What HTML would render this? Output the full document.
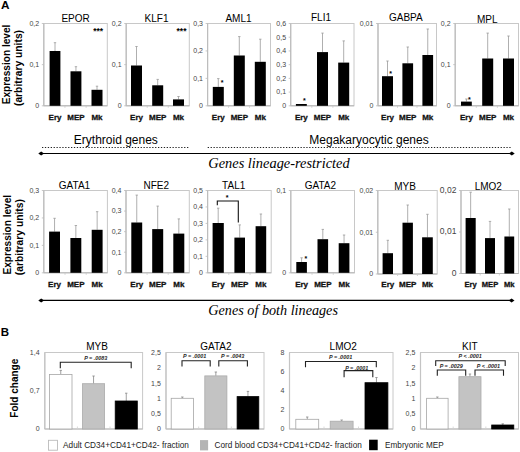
<!DOCTYPE html>
<html><head><meta charset="utf-8"><style>
html,body{margin:0;padding:0;background:#fff;width:520px;height:452px;overflow:hidden}
svg{display:block}

</style></head><body>
<svg width="520" height="452" viewBox="0 0 520 452">
<rect width="520" height="452" fill="#fff"/>
<text x="1" y="8.6" font-size="11.8" text-anchor="start" font-weight="bold" font-style="normal" fill="#000" style='font-family:"Liberation Sans", sans-serif' >A</text>
<text transform="translate(10.3,64.5) rotate(-90)" font-size="10.1" text-anchor="middle" font-weight="bold" style='font-family:"Liberation Sans", sans-serif'>Expression level</text>
<text transform="translate(21.5,68.0) rotate(-90)" font-size="10.3" text-anchor="middle" font-weight="bold" style='font-family:"Liberation Sans", sans-serif'>(arbitrary units)</text>
<rect x="43.8" y="23.5" width="63.5" height="82.3" fill="none" stroke="#c8c8c8" stroke-width="1"/>
<line x1="43.8" y1="23.5" x2="43.8" y2="105.8" stroke="#bdbdbd" stroke-width="1.2" />
<line x1="43.8" y1="105.8" x2="107.3" y2="105.8" stroke="#b5b5b5" stroke-width="1" />
<line x1="41.8" y1="23.5" x2="43.8" y2="23.5" stroke="#bbb" stroke-width="0.8" />
<text x="39.199999999999996" y="25.9" font-size="7" text-anchor="end" font-weight="normal" font-style="normal" fill="#454545" style='font-family:"Liberation Sans", sans-serif' >0,2</text>
<line x1="41.8" y1="64.65" x2="43.8" y2="64.65" stroke="#bbb" stroke-width="0.8" />
<text x="39.199999999999996" y="67.05000000000001" font-size="7" text-anchor="end" font-weight="normal" font-style="normal" fill="#454545" style='font-family:"Liberation Sans", sans-serif' >0,1</text>
<line x1="41.8" y1="105.8" x2="43.8" y2="105.8" stroke="#bbb" stroke-width="0.8" />
<text x="39.199999999999996" y="108.2" font-size="7" text-anchor="end" font-weight="normal" font-style="normal" fill="#454545" style='font-family:"Liberation Sans", sans-serif' >0</text>
<line x1="55.0" y1="42.7" x2="55.0" y2="51" stroke="#9a9a9a" stroke-width="0.8" />
<line x1="53.8" y1="42.7" x2="56.2" y2="42.7" stroke="#9a9a9a" stroke-width="0.8" />
<rect x="49.6" y="51" width="10.799999999999997" height="54.8" fill="#000" stroke="none" stroke-width="0"/>
<line x1="75.95" y1="66.7" x2="75.95" y2="71.3" stroke="#9a9a9a" stroke-width="0.8" />
<line x1="74.75" y1="66.7" x2="77.15" y2="66.7" stroke="#9a9a9a" stroke-width="0.8" />
<rect x="70.5" y="71.3" width="10.900000000000006" height="34.5" fill="#000" stroke="none" stroke-width="0"/>
<line x1="97.0" y1="86.2" x2="97.0" y2="89.8" stroke="#9a9a9a" stroke-width="0.8" />
<line x1="95.8" y1="86.2" x2="98.2" y2="86.2" stroke="#9a9a9a" stroke-width="0.8" />
<rect x="91.5" y="89.8" width="11.0" height="16.0" fill="#000" stroke="none" stroke-width="0"/>
<line x1="64.96666666666667" y1="105.8" x2="64.96666666666667" y2="107.8" stroke="#c8c8c8" stroke-width="0.8" />
<line x1="86.13333333333333" y1="105.8" x2="86.13333333333333" y2="107.8" stroke="#c8c8c8" stroke-width="0.8" />
<text x="55.0" y="119.9" font-size="8" text-anchor="middle" font-weight="bold" font-style="normal" fill="#111" style='font-family:"Liberation Sans", sans-serif' stroke="#111" stroke-width="0.3">Ery</text>
<text x="75.95" y="119.9" font-size="8" text-anchor="middle" font-weight="bold" font-style="normal" fill="#111" style='font-family:"Liberation Sans", sans-serif' stroke="#111" stroke-width="0.3">MEP</text>
<text x="97.0" y="119.9" font-size="8" text-anchor="middle" font-weight="bold" font-style="normal" fill="#111" style='font-family:"Liberation Sans", sans-serif' stroke="#111" stroke-width="0.3">Mk</text>
<text x="75.55" y="22.2" font-size="10" text-anchor="middle" font-weight="normal" font-style="normal" fill="#000" style='font-family:"Liberation Sans", sans-serif' >EPOR</text>
<text x="98.2" y="34.2" font-size="8.5" text-anchor="middle" font-weight="bold" font-style="normal" fill="#000" style='font-family:"Liberation Sans", sans-serif' >***</text>
<rect x="126.2" y="23.5" width="63.10000000000001" height="82.3" fill="none" stroke="#c8c8c8" stroke-width="1"/>
<line x1="126.2" y1="23.5" x2="126.2" y2="105.8" stroke="#bdbdbd" stroke-width="1.2" />
<line x1="126.2" y1="105.8" x2="189.3" y2="105.8" stroke="#b5b5b5" stroke-width="1" />
<line x1="124.2" y1="23.5" x2="126.2" y2="23.5" stroke="#bbb" stroke-width="0.8" />
<text x="121.60000000000001" y="25.9" font-size="7" text-anchor="end" font-weight="normal" font-style="normal" fill="#454545" style='font-family:"Liberation Sans", sans-serif' >0,2</text>
<line x1="124.2" y1="64.65" x2="126.2" y2="64.65" stroke="#bbb" stroke-width="0.8" />
<text x="121.60000000000001" y="67.05000000000001" font-size="7" text-anchor="end" font-weight="normal" font-style="normal" fill="#454545" style='font-family:"Liberation Sans", sans-serif' >0,1</text>
<line x1="124.2" y1="105.8" x2="126.2" y2="105.8" stroke="#bbb" stroke-width="0.8" />
<text x="121.60000000000001" y="108.2" font-size="7" text-anchor="end" font-weight="normal" font-style="normal" fill="#454545" style='font-family:"Liberation Sans", sans-serif' >0</text>
<line x1="136.5" y1="46.5" x2="136.5" y2="65.5" stroke="#9a9a9a" stroke-width="0.8" />
<line x1="135.3" y1="46.5" x2="137.7" y2="46.5" stroke="#9a9a9a" stroke-width="0.8" />
<rect x="131" y="65.5" width="11" height="40.3" fill="#000" stroke="none" stroke-width="0"/>
<line x1="157.7" y1="79.4" x2="157.7" y2="85.3" stroke="#9a9a9a" stroke-width="0.8" />
<line x1="156.5" y1="79.4" x2="158.89999999999998" y2="79.4" stroke="#9a9a9a" stroke-width="0.8" />
<rect x="152.2" y="85.3" width="11.0" height="20.5" fill="#000" stroke="none" stroke-width="0"/>
<line x1="178.5" y1="96.5" x2="178.5" y2="99.4" stroke="#9a9a9a" stroke-width="0.8" />
<line x1="177.3" y1="96.5" x2="179.7" y2="96.5" stroke="#9a9a9a" stroke-width="0.8" />
<rect x="173" y="99.4" width="11" height="6.3999999999999915" fill="#000" stroke="none" stroke-width="0"/>
<line x1="147.23333333333335" y1="105.8" x2="147.23333333333335" y2="107.8" stroke="#c8c8c8" stroke-width="0.8" />
<line x1="168.26666666666668" y1="105.8" x2="168.26666666666668" y2="107.8" stroke="#c8c8c8" stroke-width="0.8" />
<text x="136.5" y="119.9" font-size="8" text-anchor="middle" font-weight="bold" font-style="normal" fill="#111" style='font-family:"Liberation Sans", sans-serif' stroke="#111" stroke-width="0.3">Ery</text>
<text x="157.7" y="119.9" font-size="8" text-anchor="middle" font-weight="bold" font-style="normal" fill="#111" style='font-family:"Liberation Sans", sans-serif' stroke="#111" stroke-width="0.3">MEP</text>
<text x="178.5" y="119.9" font-size="8" text-anchor="middle" font-weight="bold" font-style="normal" fill="#111" style='font-family:"Liberation Sans", sans-serif' stroke="#111" stroke-width="0.3">Mk</text>
<text x="156.5" y="22.2" font-size="10" text-anchor="middle" font-weight="normal" font-style="normal" fill="#000" style='font-family:"Liberation Sans", sans-serif' >KLF1</text>
<text x="181.5" y="34.2" font-size="8.5" text-anchor="middle" font-weight="bold" font-style="normal" fill="#000" style='font-family:"Liberation Sans", sans-serif' >***</text>
<rect x="207.6" y="23.5" width="62.900000000000006" height="82.3" fill="none" stroke="#c8c8c8" stroke-width="1"/>
<line x1="207.6" y1="23.5" x2="207.6" y2="105.8" stroke="#bdbdbd" stroke-width="1.2" />
<line x1="207.6" y1="105.8" x2="270.5" y2="105.8" stroke="#b5b5b5" stroke-width="1" />
<line x1="205.6" y1="23.5" x2="207.6" y2="23.5" stroke="#bbb" stroke-width="0.8" />
<text x="203.0" y="25.9" font-size="7" text-anchor="end" font-weight="normal" font-style="normal" fill="#454545" style='font-family:"Liberation Sans", sans-serif' >0,3</text>
<line x1="205.6" y1="50.93333333333334" x2="207.6" y2="50.93333333333334" stroke="#bbb" stroke-width="0.8" />
<text x="203.0" y="53.333333333333336" font-size="7" text-anchor="end" font-weight="normal" font-style="normal" fill="#454545" style='font-family:"Liberation Sans", sans-serif' >0,2</text>
<line x1="205.6" y1="78.36666666666667" x2="207.6" y2="78.36666666666667" stroke="#bbb" stroke-width="0.8" />
<text x="203.0" y="80.76666666666668" font-size="7" text-anchor="end" font-weight="normal" font-style="normal" fill="#454545" style='font-family:"Liberation Sans", sans-serif' >0,1</text>
<line x1="205.6" y1="105.8" x2="207.6" y2="105.8" stroke="#bbb" stroke-width="0.8" />
<text x="203.0" y="108.2" font-size="7" text-anchor="end" font-weight="normal" font-style="normal" fill="#454545" style='font-family:"Liberation Sans", sans-serif' >0</text>
<line x1="218.3" y1="78.6" x2="218.3" y2="86.9" stroke="#9a9a9a" stroke-width="0.8" />
<line x1="217.10000000000002" y1="78.6" x2="219.5" y2="78.6" stroke="#9a9a9a" stroke-width="0.8" />
<rect x="212.8" y="86.9" width="11.0" height="18.89999999999999" fill="#000" stroke="none" stroke-width="0"/>
<line x1="239.3" y1="36.6" x2="239.3" y2="55.5" stroke="#9a9a9a" stroke-width="0.8" />
<line x1="238.10000000000002" y1="36.6" x2="240.5" y2="36.6" stroke="#9a9a9a" stroke-width="0.8" />
<rect x="233.8" y="55.5" width="11.0" height="50.3" fill="#000" stroke="none" stroke-width="0"/>
<line x1="260.3" y1="39.2" x2="260.3" y2="61.8" stroke="#9a9a9a" stroke-width="0.8" />
<line x1="259.1" y1="39.2" x2="261.5" y2="39.2" stroke="#9a9a9a" stroke-width="0.8" />
<rect x="254.8" y="61.8" width="11.0" height="44.0" fill="#000" stroke="none" stroke-width="0"/>
<line x1="228.56666666666666" y1="105.8" x2="228.56666666666666" y2="107.8" stroke="#c8c8c8" stroke-width="0.8" />
<line x1="249.53333333333333" y1="105.8" x2="249.53333333333333" y2="107.8" stroke="#c8c8c8" stroke-width="0.8" />
<text x="218.3" y="119.9" font-size="8" text-anchor="middle" font-weight="bold" font-style="normal" fill="#111" style='font-family:"Liberation Sans", sans-serif' stroke="#111" stroke-width="0.3">Ery</text>
<text x="239.3" y="119.9" font-size="8" text-anchor="middle" font-weight="bold" font-style="normal" fill="#111" style='font-family:"Liberation Sans", sans-serif' stroke="#111" stroke-width="0.3">MEP</text>
<text x="260.3" y="119.9" font-size="8" text-anchor="middle" font-weight="bold" font-style="normal" fill="#111" style='font-family:"Liberation Sans", sans-serif' stroke="#111" stroke-width="0.3">Mk</text>
<text x="238.5" y="22.2" font-size="10" text-anchor="middle" font-weight="normal" font-style="normal" fill="#000" style='font-family:"Liberation Sans", sans-serif' >AML1</text>
<text x="222" y="84.8" font-size="7" text-anchor="middle" font-weight="bold" font-style="normal" fill="#000" style='font-family:"Liberation Sans", sans-serif' >*</text>
<rect x="290.7" y="23.5" width="63.30000000000001" height="82.3" fill="none" stroke="#c8c8c8" stroke-width="1"/>
<line x1="290.7" y1="23.5" x2="290.7" y2="105.8" stroke="#bdbdbd" stroke-width="1.2" />
<line x1="290.7" y1="105.8" x2="354" y2="105.8" stroke="#b5b5b5" stroke-width="1" />
<line x1="288.7" y1="23.5" x2="290.7" y2="23.5" stroke="#bbb" stroke-width="0.8" />
<text x="286.09999999999997" y="25.9" font-size="7" text-anchor="end" font-weight="normal" font-style="normal" fill="#454545" style='font-family:"Liberation Sans", sans-serif' >0,6</text>
<line x1="288.7" y1="37.21666666666667" x2="290.7" y2="37.21666666666667" stroke="#bbb" stroke-width="0.8" />
<text x="286.09999999999997" y="39.61666666666667" font-size="7" text-anchor="end" font-weight="normal" font-style="normal" fill="#454545" style='font-family:"Liberation Sans", sans-serif' >0,5</text>
<line x1="288.7" y1="50.93333333333334" x2="290.7" y2="50.93333333333334" stroke="#bbb" stroke-width="0.8" />
<text x="286.09999999999997" y="53.333333333333336" font-size="7" text-anchor="end" font-weight="normal" font-style="normal" fill="#454545" style='font-family:"Liberation Sans", sans-serif' >0,4</text>
<line x1="288.7" y1="64.65" x2="290.7" y2="64.65" stroke="#bbb" stroke-width="0.8" />
<text x="286.09999999999997" y="67.05000000000001" font-size="7" text-anchor="end" font-weight="normal" font-style="normal" fill="#454545" style='font-family:"Liberation Sans", sans-serif' >0,3</text>
<line x1="288.7" y1="78.36666666666667" x2="290.7" y2="78.36666666666667" stroke="#bbb" stroke-width="0.8" />
<text x="286.09999999999997" y="80.76666666666668" font-size="7" text-anchor="end" font-weight="normal" font-style="normal" fill="#454545" style='font-family:"Liberation Sans", sans-serif' >0,2</text>
<line x1="288.7" y1="92.08333333333333" x2="290.7" y2="92.08333333333333" stroke="#bbb" stroke-width="0.8" />
<text x="286.09999999999997" y="94.48333333333333" font-size="7" text-anchor="end" font-weight="normal" font-style="normal" fill="#454545" style='font-family:"Liberation Sans", sans-serif' >0,1</text>
<line x1="288.7" y1="105.8" x2="290.7" y2="105.8" stroke="#bbb" stroke-width="0.8" />
<text x="286.09999999999997" y="108.2" font-size="7" text-anchor="end" font-weight="normal" font-style="normal" fill="#454545" style='font-family:"Liberation Sans", sans-serif' >0</text>
<rect x="295.9" y="104" width="10.900000000000034" height="1.7999999999999972" fill="#000" stroke="none" stroke-width="0"/>
<line x1="322.5" y1="33.1" x2="322.5" y2="52.1" stroke="#9a9a9a" stroke-width="0.8" />
<line x1="321.3" y1="33.1" x2="323.7" y2="33.1" stroke="#9a9a9a" stroke-width="0.8" />
<rect x="317" y="52.1" width="11" height="53.699999999999996" fill="#000" stroke="none" stroke-width="0"/>
<line x1="343.7" y1="40.9" x2="343.7" y2="62.6" stroke="#9a9a9a" stroke-width="0.8" />
<line x1="342.5" y1="40.9" x2="344.9" y2="40.9" stroke="#9a9a9a" stroke-width="0.8" />
<rect x="338.2" y="62.6" width="11.0" height="43.199999999999996" fill="#000" stroke="none" stroke-width="0"/>
<line x1="311.8" y1="105.8" x2="311.8" y2="107.8" stroke="#c8c8c8" stroke-width="0.8" />
<line x1="332.9" y1="105.8" x2="332.9" y2="107.8" stroke="#c8c8c8" stroke-width="0.8" />
<text x="301.35" y="119.9" font-size="8" text-anchor="middle" font-weight="bold" font-style="normal" fill="#111" style='font-family:"Liberation Sans", sans-serif' stroke="#111" stroke-width="0.3">Ery</text>
<text x="322.5" y="119.9" font-size="8" text-anchor="middle" font-weight="bold" font-style="normal" fill="#111" style='font-family:"Liberation Sans", sans-serif' stroke="#111" stroke-width="0.3">MEP</text>
<text x="343.7" y="119.9" font-size="8" text-anchor="middle" font-weight="bold" font-style="normal" fill="#111" style='font-family:"Liberation Sans", sans-serif' stroke="#111" stroke-width="0.3">Mk</text>
<text x="321" y="21.2" font-size="10" text-anchor="middle" font-weight="normal" font-style="normal" fill="#000" style='font-family:"Liberation Sans", sans-serif' >FLI1</text>
<text x="304.4" y="102.5" font-size="7" text-anchor="middle" font-weight="bold" font-style="normal" fill="#000" style='font-family:"Liberation Sans", sans-serif' >*</text>
<rect x="378" y="23.5" width="58.5" height="82.3" fill="none" stroke="#c8c8c8" stroke-width="1"/>
<line x1="378" y1="23.5" x2="378" y2="105.8" stroke="#bdbdbd" stroke-width="1.2" />
<line x1="378" y1="105.8" x2="436.5" y2="105.8" stroke="#b5b5b5" stroke-width="1" />
<line x1="376" y1="23.5" x2="378" y2="23.5" stroke="#bbb" stroke-width="0.8" />
<text x="373.4" y="25.9" font-size="7" text-anchor="end" font-weight="normal" font-style="normal" fill="#454545" style='font-family:"Liberation Sans", sans-serif' >0,01</text>
<line x1="376" y1="105.8" x2="378" y2="105.8" stroke="#bbb" stroke-width="0.8" />
<text x="373.4" y="108.2" font-size="7" text-anchor="end" font-weight="normal" font-style="normal" fill="#454545" style='font-family:"Liberation Sans", sans-serif' >0</text>
<line x1="387.5" y1="61" x2="387.5" y2="76.2" stroke="#9a9a9a" stroke-width="0.8" />
<line x1="386.3" y1="61" x2="388.7" y2="61" stroke="#9a9a9a" stroke-width="0.8" />
<rect x="382" y="76.2" width="11" height="29.599999999999994" fill="#000" stroke="none" stroke-width="0"/>
<line x1="407.75" y1="47" x2="407.75" y2="63.3" stroke="#9a9a9a" stroke-width="0.8" />
<line x1="406.55" y1="47" x2="408.95" y2="47" stroke="#9a9a9a" stroke-width="0.8" />
<rect x="402.4" y="63.3" width="10.700000000000045" height="42.5" fill="#000" stroke="none" stroke-width="0"/>
<line x1="427.75" y1="29" x2="427.75" y2="55" stroke="#9a9a9a" stroke-width="0.8" />
<line x1="426.55" y1="29" x2="428.95" y2="29" stroke="#9a9a9a" stroke-width="0.8" />
<rect x="422.4" y="55" width="10.700000000000045" height="50.8" fill="#000" stroke="none" stroke-width="0"/>
<line x1="397.5" y1="105.8" x2="397.5" y2="107.8" stroke="#c8c8c8" stroke-width="0.8" />
<line x1="417.0" y1="105.8" x2="417.0" y2="107.8" stroke="#c8c8c8" stroke-width="0.8" />
<text x="387.5" y="119.9" font-size="8" text-anchor="middle" font-weight="bold" font-style="normal" fill="#111" style='font-family:"Liberation Sans", sans-serif' stroke="#111" stroke-width="0.3">Ery</text>
<text x="407.75" y="119.9" font-size="8" text-anchor="middle" font-weight="bold" font-style="normal" fill="#111" style='font-family:"Liberation Sans", sans-serif' stroke="#111" stroke-width="0.3">MEP</text>
<text x="427.75" y="119.9" font-size="8" text-anchor="middle" font-weight="bold" font-style="normal" fill="#111" style='font-family:"Liberation Sans", sans-serif' stroke="#111" stroke-width="0.3">Mk</text>
<text x="405.8" y="21.0" font-size="10" text-anchor="middle" font-weight="normal" font-style="normal" fill="#000" style='font-family:"Liberation Sans", sans-serif' >GABPA</text>
<text x="390.5" y="75.6" font-size="7" text-anchor="middle" font-weight="bold" font-style="normal" fill="#000" style='font-family:"Liberation Sans", sans-serif' >*</text>
<rect x="455.2" y="23.5" width="63.30000000000001" height="82.3" fill="none" stroke="#c8c8c8" stroke-width="1"/>
<line x1="455.2" y1="23.5" x2="455.2" y2="105.8" stroke="#bdbdbd" stroke-width="1.2" />
<line x1="455.2" y1="105.8" x2="518.5" y2="105.8" stroke="#b5b5b5" stroke-width="1" />
<line x1="453.2" y1="23.5" x2="455.2" y2="23.5" stroke="#bbb" stroke-width="0.8" />
<text x="450.59999999999997" y="25.9" font-size="7" text-anchor="end" font-weight="normal" font-style="normal" fill="#454545" style='font-family:"Liberation Sans", sans-serif' >0,2</text>
<line x1="453.2" y1="64.65" x2="455.2" y2="64.65" stroke="#bbb" stroke-width="0.8" />
<text x="450.59999999999997" y="67.05000000000001" font-size="7" text-anchor="end" font-weight="normal" font-style="normal" fill="#454545" style='font-family:"Liberation Sans", sans-serif' >0,1</text>
<line x1="453.2" y1="105.8" x2="455.2" y2="105.8" stroke="#bbb" stroke-width="0.8" />
<text x="450.59999999999997" y="108.2" font-size="7" text-anchor="end" font-weight="normal" font-style="normal" fill="#454545" style='font-family:"Liberation Sans", sans-serif' >0</text>
<line x1="466.4" y1="99" x2="466.4" y2="101.6" stroke="#9a9a9a" stroke-width="0.8" />
<line x1="465.2" y1="99" x2="467.59999999999997" y2="99" stroke="#9a9a9a" stroke-width="0.8" />
<rect x="461" y="101.6" width="10.800000000000011" height="4.200000000000003" fill="#000" stroke="none" stroke-width="0"/>
<line x1="487.7" y1="33.1" x2="487.7" y2="58.5" stroke="#9a9a9a" stroke-width="0.8" />
<line x1="486.5" y1="33.1" x2="488.9" y2="33.1" stroke="#9a9a9a" stroke-width="0.8" />
<rect x="482.2" y="58.5" width="11.0" height="47.3" fill="#000" stroke="none" stroke-width="0"/>
<line x1="508.5" y1="36" x2="508.5" y2="58.5" stroke="#9a9a9a" stroke-width="0.8" />
<line x1="507.3" y1="36" x2="509.7" y2="36" stroke="#9a9a9a" stroke-width="0.8" />
<rect x="503" y="58.5" width="11" height="47.3" fill="#000" stroke="none" stroke-width="0"/>
<line x1="476.3" y1="105.8" x2="476.3" y2="107.8" stroke="#c8c8c8" stroke-width="0.8" />
<line x1="497.4" y1="105.8" x2="497.4" y2="107.8" stroke="#c8c8c8" stroke-width="0.8" />
<text x="466.4" y="119.9" font-size="8" text-anchor="middle" font-weight="bold" font-style="normal" fill="#111" style='font-family:"Liberation Sans", sans-serif' stroke="#111" stroke-width="0.3">Ery</text>
<text x="487.7" y="119.9" font-size="8" text-anchor="middle" font-weight="bold" font-style="normal" fill="#111" style='font-family:"Liberation Sans", sans-serif' stroke="#111" stroke-width="0.3">MEP</text>
<text x="508.5" y="119.9" font-size="8" text-anchor="middle" font-weight="bold" font-style="normal" fill="#111" style='font-family:"Liberation Sans", sans-serif' stroke="#111" stroke-width="0.3">Mk</text>
<text x="487.2" y="22.6" font-size="10" text-anchor="middle" font-weight="normal" font-style="normal" fill="#000" style='font-family:"Liberation Sans", sans-serif' >MPL</text>
<text x="469.4" y="102" font-size="7" text-anchor="middle" font-weight="bold" font-style="normal" fill="#000" style='font-family:"Liberation Sans", sans-serif' >*</text>
<line x1="42" y1="147.5" x2="189" y2="147.5" stroke="#222" stroke-width="1" stroke-dasharray="1.3,1.6"/>
<line x1="207.7" y1="147.5" x2="511.8" y2="147.5" stroke="#222" stroke-width="1" stroke-dasharray="1.3,1.6"/>
<text x="73.8" y="143.8" font-size="12" text-anchor="start" font-weight="normal" font-style="normal" fill="#000" style='font-family:"Liberation Sans", sans-serif' >Erythroid genes</text>
<text x="309.3" y="143.8" font-size="12" text-anchor="start" font-weight="normal" font-style="normal" fill="#000" style='font-family:"Liberation Sans", sans-serif' >Megakaryocytic genes</text>
<line x1="41.2" y1="153.5" x2="511.8" y2="153.5" stroke="#000" stroke-width="1.1" />
<polygon points="38.3,153.5 41.2,151.5 44.1,153.5 41.2,155.5" fill="#000"/>
<polygon points="508.9,153.5 511.8,151.5 514.7,153.5 511.8,155.5" fill="#000"/>
<text x="208.3" y="168.1" font-size="14.4" text-anchor="start" font-weight="normal" font-style="italic" fill="#000" style='font-family:"Liberation Serif", serif' >Genes lineage-restricted</text>
<text transform="translate(11.4,234.7) rotate(-90)" font-size="10.1" text-anchor="middle" font-weight="bold" style='font-family:"Liberation Sans", sans-serif'>Expression level</text>
<text transform="translate(22.6,237.1) rotate(-90)" font-size="10.3" text-anchor="middle" font-weight="bold" style='font-family:"Liberation Sans", sans-serif'>(arbitrary units)</text>
<rect x="43.8" y="190.5" width="63.60000000000001" height="82.30000000000001" fill="none" stroke="#c8c8c8" stroke-width="1"/>
<line x1="43.8" y1="190.5" x2="43.8" y2="272.8" stroke="#bdbdbd" stroke-width="1.2" />
<line x1="43.8" y1="272.8" x2="107.4" y2="272.8" stroke="#b5b5b5" stroke-width="1" />
<line x1="41.8" y1="190.5" x2="43.8" y2="190.5" stroke="#bbb" stroke-width="0.8" />
<text x="39.199999999999996" y="192.9" font-size="7" text-anchor="end" font-weight="normal" font-style="normal" fill="#454545" style='font-family:"Liberation Sans", sans-serif' >0,3</text>
<line x1="41.8" y1="217.93333333333334" x2="43.8" y2="217.93333333333334" stroke="#bbb" stroke-width="0.8" />
<text x="39.199999999999996" y="220.33333333333334" font-size="7" text-anchor="end" font-weight="normal" font-style="normal" fill="#454545" style='font-family:"Liberation Sans", sans-serif' >0,2</text>
<line x1="41.8" y1="245.36666666666667" x2="43.8" y2="245.36666666666667" stroke="#bbb" stroke-width="0.8" />
<text x="39.199999999999996" y="247.76666666666668" font-size="7" text-anchor="end" font-weight="normal" font-style="normal" fill="#454545" style='font-family:"Liberation Sans", sans-serif' >0,1</text>
<line x1="41.8" y1="272.8" x2="43.8" y2="272.8" stroke="#bbb" stroke-width="0.8" />
<text x="39.199999999999996" y="275.2" font-size="7" text-anchor="end" font-weight="normal" font-style="normal" fill="#454545" style='font-family:"Liberation Sans", sans-serif' >0</text>
<line x1="54.55" y1="218.3" x2="54.55" y2="231.6" stroke="#9a9a9a" stroke-width="0.8" />
<line x1="53.349999999999994" y1="218.3" x2="55.75" y2="218.3" stroke="#9a9a9a" stroke-width="0.8" />
<rect x="49.1" y="231.6" width="10.899999999999999" height="41.20000000000002" fill="#000" stroke="none" stroke-width="0"/>
<line x1="75.85" y1="225.5" x2="75.85" y2="238" stroke="#9a9a9a" stroke-width="0.8" />
<line x1="74.64999999999999" y1="225.5" x2="77.05" y2="225.5" stroke="#9a9a9a" stroke-width="0.8" />
<rect x="70.4" y="238" width="10.899999999999991" height="34.80000000000001" fill="#000" stroke="none" stroke-width="0"/>
<line x1="97.15" y1="211.7" x2="97.15" y2="229.8" stroke="#9a9a9a" stroke-width="0.8" />
<line x1="95.95" y1="211.7" x2="98.35000000000001" y2="211.7" stroke="#9a9a9a" stroke-width="0.8" />
<rect x="91.7" y="229.8" width="10.899999999999991" height="43.0" fill="#000" stroke="none" stroke-width="0"/>
<line x1="65.0" y1="272.8" x2="65.0" y2="274.8" stroke="#c8c8c8" stroke-width="0.8" />
<line x1="86.2" y1="272.8" x2="86.2" y2="274.8" stroke="#c8c8c8" stroke-width="0.8" />
<text x="54.55" y="286.6" font-size="8" text-anchor="middle" font-weight="bold" font-style="normal" fill="#111" style='font-family:"Liberation Sans", sans-serif' stroke="#111" stroke-width="0.3">Ery</text>
<text x="75.85" y="286.6" font-size="8" text-anchor="middle" font-weight="bold" font-style="normal" fill="#111" style='font-family:"Liberation Sans", sans-serif' stroke="#111" stroke-width="0.3">MEP</text>
<text x="97.15" y="286.6" font-size="8" text-anchor="middle" font-weight="bold" font-style="normal" fill="#111" style='font-family:"Liberation Sans", sans-serif' stroke="#111" stroke-width="0.3">Mk</text>
<text x="74.5" y="189.2" font-size="10" text-anchor="middle" font-weight="normal" font-style="normal" fill="#000" style='font-family:"Liberation Sans", sans-serif' >GATA1</text>
<rect x="126" y="190.5" width="63.30000000000001" height="82.30000000000001" fill="none" stroke="#c8c8c8" stroke-width="1"/>
<line x1="126" y1="190.5" x2="126" y2="272.8" stroke="#bdbdbd" stroke-width="1.2" />
<line x1="126" y1="272.8" x2="189.3" y2="272.8" stroke="#b5b5b5" stroke-width="1" />
<line x1="124" y1="190.5" x2="126" y2="190.5" stroke="#bbb" stroke-width="0.8" />
<text x="121.4" y="192.9" font-size="7" text-anchor="end" font-weight="normal" font-style="normal" fill="#454545" style='font-family:"Liberation Sans", sans-serif' >0,4</text>
<line x1="124" y1="211.075" x2="126" y2="211.075" stroke="#bbb" stroke-width="0.8" />
<text x="121.4" y="213.475" font-size="7" text-anchor="end" font-weight="normal" font-style="normal" fill="#454545" style='font-family:"Liberation Sans", sans-serif' >0,3</text>
<line x1="124" y1="231.65" x2="126" y2="231.65" stroke="#bbb" stroke-width="0.8" />
<text x="121.4" y="234.05" font-size="7" text-anchor="end" font-weight="normal" font-style="normal" fill="#454545" style='font-family:"Liberation Sans", sans-serif' >0,2</text>
<line x1="124" y1="252.22500000000002" x2="126" y2="252.22500000000002" stroke="#bbb" stroke-width="0.8" />
<text x="121.4" y="254.62500000000003" font-size="7" text-anchor="end" font-weight="normal" font-style="normal" fill="#454545" style='font-family:"Liberation Sans", sans-serif' >0,1</text>
<line x1="124" y1="272.8" x2="126" y2="272.8" stroke="#bbb" stroke-width="0.8" />
<text x="121.4" y="275.2" font-size="7" text-anchor="end" font-weight="normal" font-style="normal" fill="#454545" style='font-family:"Liberation Sans", sans-serif' >0</text>
<line x1="136.75" y1="195.1" x2="136.75" y2="222.5" stroke="#9a9a9a" stroke-width="0.8" />
<line x1="135.55" y1="195.1" x2="137.95" y2="195.1" stroke="#9a9a9a" stroke-width="0.8" />
<rect x="131.3" y="222.5" width="10.899999999999977" height="50.30000000000001" fill="#000" stroke="none" stroke-width="0"/>
<line x1="157.7" y1="206.1" x2="157.7" y2="229.1" stroke="#9a9a9a" stroke-width="0.8" />
<line x1="156.5" y1="206.1" x2="158.89999999999998" y2="206.1" stroke="#9a9a9a" stroke-width="0.8" />
<rect x="152.2" y="229.1" width="11.0" height="43.70000000000002" fill="#000" stroke="none" stroke-width="0"/>
<line x1="178.8" y1="218.9" x2="178.8" y2="233.6" stroke="#9a9a9a" stroke-width="0.8" />
<line x1="177.60000000000002" y1="218.9" x2="180.0" y2="218.9" stroke="#9a9a9a" stroke-width="0.8" />
<rect x="173.3" y="233.6" width="11.0" height="39.20000000000002" fill="#000" stroke="none" stroke-width="0"/>
<line x1="147.1" y1="272.8" x2="147.1" y2="274.8" stroke="#c8c8c8" stroke-width="0.8" />
<line x1="168.20000000000002" y1="272.8" x2="168.20000000000002" y2="274.8" stroke="#c8c8c8" stroke-width="0.8" />
<text x="136.75" y="286.6" font-size="8" text-anchor="middle" font-weight="bold" font-style="normal" fill="#111" style='font-family:"Liberation Sans", sans-serif' stroke="#111" stroke-width="0.3">Ery</text>
<text x="157.7" y="286.6" font-size="8" text-anchor="middle" font-weight="bold" font-style="normal" fill="#111" style='font-family:"Liberation Sans", sans-serif' stroke="#111" stroke-width="0.3">MEP</text>
<text x="178.8" y="286.6" font-size="8" text-anchor="middle" font-weight="bold" font-style="normal" fill="#111" style='font-family:"Liberation Sans", sans-serif' stroke="#111" stroke-width="0.3">Mk</text>
<text x="156.3" y="189.2" font-size="10" text-anchor="middle" font-weight="normal" font-style="normal" fill="#000" style='font-family:"Liberation Sans", sans-serif' >NFE2</text>
<rect x="207.6" y="190.5" width="63.599999999999994" height="82.30000000000001" fill="none" stroke="#c8c8c8" stroke-width="1"/>
<line x1="207.6" y1="190.5" x2="207.6" y2="272.8" stroke="#bdbdbd" stroke-width="1.2" />
<line x1="207.6" y1="272.8" x2="271.2" y2="272.8" stroke="#b5b5b5" stroke-width="1" />
<line x1="205.6" y1="190.5" x2="207.6" y2="190.5" stroke="#bbb" stroke-width="0.8" />
<text x="203.0" y="192.9" font-size="7" text-anchor="end" font-weight="normal" font-style="normal" fill="#454545" style='font-family:"Liberation Sans", sans-serif' >0,5</text>
<line x1="205.6" y1="206.96" x2="207.6" y2="206.96" stroke="#bbb" stroke-width="0.8" />
<text x="203.0" y="209.36" font-size="7" text-anchor="end" font-weight="normal" font-style="normal" fill="#454545" style='font-family:"Liberation Sans", sans-serif' >0,4</text>
<line x1="205.6" y1="223.42000000000002" x2="207.6" y2="223.42000000000002" stroke="#bbb" stroke-width="0.8" />
<text x="203.0" y="225.82000000000002" font-size="7" text-anchor="end" font-weight="normal" font-style="normal" fill="#454545" style='font-family:"Liberation Sans", sans-serif' >0,3</text>
<line x1="205.6" y1="239.88" x2="207.6" y2="239.88" stroke="#bbb" stroke-width="0.8" />
<text x="203.0" y="242.28" font-size="7" text-anchor="end" font-weight="normal" font-style="normal" fill="#454545" style='font-family:"Liberation Sans", sans-serif' >0,2</text>
<line x1="205.6" y1="256.34000000000003" x2="207.6" y2="256.34000000000003" stroke="#bbb" stroke-width="0.8" />
<text x="203.0" y="258.74" font-size="7" text-anchor="end" font-weight="normal" font-style="normal" fill="#454545" style='font-family:"Liberation Sans", sans-serif' >0,1</text>
<line x1="205.6" y1="272.8" x2="207.6" y2="272.8" stroke="#bbb" stroke-width="0.8" />
<text x="203.0" y="275.2" font-size="7" text-anchor="end" font-weight="normal" font-style="normal" fill="#454545" style='font-family:"Liberation Sans", sans-serif' >0</text>
<line x1="218.2" y1="208.2" x2="218.2" y2="223" stroke="#9a9a9a" stroke-width="0.8" />
<line x1="217.0" y1="208.2" x2="219.39999999999998" y2="208.2" stroke="#9a9a9a" stroke-width="0.8" />
<rect x="212.6" y="223" width="11.200000000000017" height="49.80000000000001" fill="#000" stroke="none" stroke-width="0"/>
<line x1="239.7" y1="224.9" x2="239.7" y2="237.6" stroke="#9a9a9a" stroke-width="0.8" />
<line x1="238.5" y1="224.9" x2="240.89999999999998" y2="224.9" stroke="#9a9a9a" stroke-width="0.8" />
<rect x="234.4" y="237.6" width="10.599999999999994" height="35.20000000000002" fill="#000" stroke="none" stroke-width="0"/>
<line x1="260.9" y1="214" x2="260.9" y2="226.2" stroke="#9a9a9a" stroke-width="0.8" />
<line x1="259.7" y1="214" x2="262.09999999999997" y2="214" stroke="#9a9a9a" stroke-width="0.8" />
<rect x="255.6" y="226.2" width="10.599999999999994" height="46.60000000000002" fill="#000" stroke="none" stroke-width="0"/>
<line x1="228.79999999999998" y1="272.8" x2="228.79999999999998" y2="274.8" stroke="#c8c8c8" stroke-width="0.8" />
<line x1="250.0" y1="272.8" x2="250.0" y2="274.8" stroke="#c8c8c8" stroke-width="0.8" />
<text x="218.2" y="286.6" font-size="8" text-anchor="middle" font-weight="bold" font-style="normal" fill="#111" style='font-family:"Liberation Sans", sans-serif' stroke="#111" stroke-width="0.3">Ery</text>
<text x="239.7" y="286.6" font-size="8" text-anchor="middle" font-weight="bold" font-style="normal" fill="#111" style='font-family:"Liberation Sans", sans-serif' stroke="#111" stroke-width="0.3">MEP</text>
<text x="260.9" y="286.6" font-size="8" text-anchor="middle" font-weight="bold" font-style="normal" fill="#111" style='font-family:"Liberation Sans", sans-serif' stroke="#111" stroke-width="0.3">Mk</text>
<text x="233.7" y="189.2" font-size="10" text-anchor="middle" font-weight="normal" font-style="normal" fill="#000" style='font-family:"Liberation Sans", sans-serif' >TAL1</text>
<text x="227" y="200" font-size="7" text-anchor="middle" font-weight="bold" font-style="normal" fill="#000" style='font-family:"Liberation Sans", sans-serif' >*</text>
<polyline points="217.3,205.2 217.3,201 238.3,201 238.3,222.5" fill="none" stroke="#111" stroke-width="1.1"/>
<rect x="290.8" y="190.5" width="63.69999999999999" height="82.30000000000001" fill="none" stroke="#c8c8c8" stroke-width="1"/>
<line x1="290.8" y1="190.5" x2="290.8" y2="272.8" stroke="#bdbdbd" stroke-width="1.2" />
<line x1="290.8" y1="272.8" x2="354.5" y2="272.8" stroke="#b5b5b5" stroke-width="1" />
<line x1="288.8" y1="190.5" x2="290.8" y2="190.5" stroke="#bbb" stroke-width="0.8" />
<text x="286.2" y="192.9" font-size="7" text-anchor="end" font-weight="normal" font-style="normal" fill="#454545" style='font-family:"Liberation Sans", sans-serif' >0,1</text>
<line x1="288.8" y1="272.8" x2="290.8" y2="272.8" stroke="#bbb" stroke-width="0.8" />
<text x="286.2" y="275.2" font-size="7" text-anchor="end" font-weight="normal" font-style="normal" fill="#454545" style='font-family:"Liberation Sans", sans-serif' >0</text>
<line x1="301.6" y1="257.8" x2="301.6" y2="262" stroke="#9a9a9a" stroke-width="0.8" />
<line x1="300.40000000000003" y1="257.8" x2="302.8" y2="257.8" stroke="#9a9a9a" stroke-width="0.8" />
<rect x="296.3" y="262" width="10.599999999999966" height="10.800000000000011" fill="#000" stroke="none" stroke-width="0"/>
<line x1="322.8" y1="229.4" x2="322.8" y2="239.2" stroke="#9a9a9a" stroke-width="0.8" />
<line x1="321.6" y1="229.4" x2="324.0" y2="229.4" stroke="#9a9a9a" stroke-width="0.8" />
<rect x="317.5" y="239.2" width="10.600000000000023" height="33.60000000000002" fill="#000" stroke="none" stroke-width="0"/>
<line x1="344.04999999999995" y1="235" x2="344.04999999999995" y2="243.2" stroke="#9a9a9a" stroke-width="0.8" />
<line x1="342.84999999999997" y1="235" x2="345.24999999999994" y2="235" stroke="#9a9a9a" stroke-width="0.8" />
<rect x="338.7" y="243.2" width="10.699999999999989" height="29.600000000000023" fill="#000" stroke="none" stroke-width="0"/>
<line x1="312.03333333333336" y1="272.8" x2="312.03333333333336" y2="274.8" stroke="#c8c8c8" stroke-width="0.8" />
<line x1="333.26666666666665" y1="272.8" x2="333.26666666666665" y2="274.8" stroke="#c8c8c8" stroke-width="0.8" />
<text x="301.6" y="286.6" font-size="8" text-anchor="middle" font-weight="bold" font-style="normal" fill="#111" style='font-family:"Liberation Sans", sans-serif' stroke="#111" stroke-width="0.3">Ery</text>
<text x="322.8" y="286.6" font-size="8" text-anchor="middle" font-weight="bold" font-style="normal" fill="#111" style='font-family:"Liberation Sans", sans-serif' stroke="#111" stroke-width="0.3">MEP</text>
<text x="344.04999999999995" y="286.6" font-size="8" text-anchor="middle" font-weight="bold" font-style="normal" fill="#111" style='font-family:"Liberation Sans", sans-serif' stroke="#111" stroke-width="0.3">Mk</text>
<text x="320.4" y="188.6" font-size="10" text-anchor="middle" font-weight="normal" font-style="normal" fill="#000" style='font-family:"Liberation Sans", sans-serif' >GATA2</text>
<text x="305.8" y="260.7" font-size="7" text-anchor="middle" font-weight="bold" font-style="normal" fill="#000" style='font-family:"Liberation Sans", sans-serif' >*</text>
<rect x="377.8" y="190.5" width="59.39999999999998" height="83.5" fill="none" stroke="#c8c8c8" stroke-width="1"/>
<line x1="377.8" y1="190.5" x2="377.8" y2="274.0" stroke="#bdbdbd" stroke-width="1.2" />
<line x1="377.8" y1="274.0" x2="437.2" y2="274.0" stroke="#b5b5b5" stroke-width="1" />
<line x1="375.8" y1="190.5" x2="377.8" y2="190.5" stroke="#bbb" stroke-width="0.8" />
<text x="373.2" y="192.9" font-size="7" text-anchor="end" font-weight="normal" font-style="normal" fill="#454545" style='font-family:"Liberation Sans", sans-serif' >0,02</text>
<line x1="375.8" y1="232.25" x2="377.8" y2="232.25" stroke="#bbb" stroke-width="0.8" />
<text x="373.2" y="234.65" font-size="7" text-anchor="end" font-weight="normal" font-style="normal" fill="#454545" style='font-family:"Liberation Sans", sans-serif' >0,01</text>
<line x1="375.8" y1="274.0" x2="377.8" y2="274.0" stroke="#bbb" stroke-width="0.8" />
<text x="373.2" y="276.4" font-size="7" text-anchor="end" font-weight="normal" font-style="normal" fill="#454545" style='font-family:"Liberation Sans", sans-serif' >0</text>
<line x1="387.8" y1="240.3" x2="387.8" y2="253.2" stroke="#9a9a9a" stroke-width="0.8" />
<line x1="386.6" y1="240.3" x2="389.0" y2="240.3" stroke="#9a9a9a" stroke-width="0.8" />
<rect x="382.6" y="253.2" width="10.399999999999977" height="20.80000000000001" fill="#000" stroke="none" stroke-width="0"/>
<line x1="407.7" y1="205" x2="407.7" y2="222.7" stroke="#9a9a9a" stroke-width="0.8" />
<line x1="406.5" y1="205" x2="408.9" y2="205" stroke="#9a9a9a" stroke-width="0.8" />
<rect x="402.5" y="222.7" width="10.399999999999977" height="51.30000000000001" fill="#000" stroke="none" stroke-width="0"/>
<line x1="427.45000000000005" y1="214.3" x2="427.45000000000005" y2="237.3" stroke="#9a9a9a" stroke-width="0.8" />
<line x1="426.25000000000006" y1="214.3" x2="428.65000000000003" y2="214.3" stroke="#9a9a9a" stroke-width="0.8" />
<rect x="422.1" y="237.3" width="10.699999999999989" height="36.69999999999999" fill="#000" stroke="none" stroke-width="0"/>
<line x1="397.6" y1="274.0" x2="397.6" y2="276.0" stroke="#c8c8c8" stroke-width="0.8" />
<line x1="417.4" y1="274.0" x2="417.4" y2="276.0" stroke="#c8c8c8" stroke-width="0.8" />
<text x="387.8" y="286.6" font-size="8" text-anchor="middle" font-weight="bold" font-style="normal" fill="#111" style='font-family:"Liberation Sans", sans-serif' stroke="#111" stroke-width="0.3">Ery</text>
<text x="407.7" y="286.6" font-size="8" text-anchor="middle" font-weight="bold" font-style="normal" fill="#111" style='font-family:"Liberation Sans", sans-serif' stroke="#111" stroke-width="0.3">MEP</text>
<text x="427.45000000000005" y="286.6" font-size="8" text-anchor="middle" font-weight="bold" font-style="normal" fill="#111" style='font-family:"Liberation Sans", sans-serif' stroke="#111" stroke-width="0.3">Mk</text>
<text x="405" y="189.7" font-size="10" text-anchor="middle" font-weight="normal" font-style="normal" fill="#000" style='font-family:"Liberation Sans", sans-serif' >MYB</text>
<rect x="461" y="190.5" width="57.5" height="83.0" fill="none" stroke="#c8c8c8" stroke-width="1"/>
<line x1="461" y1="190.5" x2="461" y2="273.5" stroke="#bdbdbd" stroke-width="1.2" />
<line x1="461" y1="273.5" x2="518.5" y2="273.5" stroke="#b5b5b5" stroke-width="1" />
<line x1="459" y1="190.5" x2="461" y2="190.5" stroke="#bbb" stroke-width="0.8" />
<text x="456.4" y="192.9" font-size="8.5" text-anchor="end" font-weight="normal" font-style="normal" fill="#444" style='font-family:"Liberation Sans", sans-serif' >0,02</text>
<line x1="459" y1="232.0" x2="461" y2="232.0" stroke="#bbb" stroke-width="0.8" />
<text x="456.4" y="234.4" font-size="8.5" text-anchor="end" font-weight="normal" font-style="normal" fill="#444" style='font-family:"Liberation Sans", sans-serif' >0,01</text>
<line x1="459" y1="273.5" x2="461" y2="273.5" stroke="#bbb" stroke-width="0.8" />
<text x="456.4" y="275.9" font-size="8.5" text-anchor="end" font-weight="normal" font-style="normal" fill="#444" style='font-family:"Liberation Sans", sans-serif' >0</text>
<line x1="470.65" y1="192.2" x2="470.65" y2="218" stroke="#9a9a9a" stroke-width="0.8" />
<line x1="469.45" y1="192.2" x2="471.84999999999997" y2="192.2" stroke="#9a9a9a" stroke-width="0.8" />
<rect x="465.6" y="218" width="10.099999999999966" height="55.5" fill="#000" stroke="none" stroke-width="0"/>
<line x1="490.0" y1="221.4" x2="490.0" y2="238.1" stroke="#9a9a9a" stroke-width="0.8" />
<line x1="488.8" y1="221.4" x2="491.2" y2="221.4" stroke="#9a9a9a" stroke-width="0.8" />
<rect x="485" y="238.1" width="10" height="35.400000000000006" fill="#000" stroke="none" stroke-width="0"/>
<line x1="509.3" y1="209" x2="509.3" y2="236.5" stroke="#9a9a9a" stroke-width="0.8" />
<line x1="508.1" y1="209" x2="510.5" y2="209" stroke="#9a9a9a" stroke-width="0.8" />
<rect x="504.4" y="236.5" width="9.800000000000068" height="37.0" fill="#000" stroke="none" stroke-width="0"/>
<line x1="480.1666666666667" y1="273.5" x2="480.1666666666667" y2="275.5" stroke="#c8c8c8" stroke-width="0.8" />
<line x1="499.3333333333333" y1="273.5" x2="499.3333333333333" y2="275.5" stroke="#c8c8c8" stroke-width="0.8" />
<text x="470.65" y="286.6" font-size="7.6" text-anchor="middle" font-weight="bold" font-style="normal" fill="#111" style='font-family:"Liberation Sans", sans-serif' stroke="#111" stroke-width="0.3">Ery</text>
<text x="490.0" y="286.6" font-size="7.6" text-anchor="middle" font-weight="bold" font-style="normal" fill="#111" style='font-family:"Liberation Sans", sans-serif' stroke="#111" stroke-width="0.3">MEP</text>
<text x="509.3" y="286.6" font-size="7.6" text-anchor="middle" font-weight="bold" font-style="normal" fill="#111" style='font-family:"Liberation Sans", sans-serif' stroke="#111" stroke-width="0.3">Mk</text>
<text x="488.3" y="190.2" font-size="10" text-anchor="middle" font-weight="normal" font-style="normal" fill="#000" style='font-family:"Liberation Sans", sans-serif' >LMO2</text>
<line x1="41.2" y1="300.4" x2="511.6" y2="300.4" stroke="#000" stroke-width="1.1" />
<polygon points="38.3,300.4 41.2,298.4 44.1,300.4 41.2,302.4" fill="#000"/>
<polygon points="508.7,300.4 511.6,298.4 514.5,300.4 511.6,302.4" fill="#000"/>
<text x="208.3" y="314.6" font-size="14.2" text-anchor="start" font-weight="normal" font-style="italic" fill="#000" style='font-family:"Liberation Serif", serif' >Genes of both lineages</text>
<text x="0.8" y="335.6" font-size="11.5" text-anchor="start" font-weight="bold" font-style="normal" fill="#000" style='font-family:"Liberation Sans", sans-serif' >B</text>
<text transform="translate(18.0,388.2) rotate(-90)" font-size="10" text-anchor="middle" font-weight="bold" style='font-family:"Liberation Sans", sans-serif'>Fold change</text>
<rect x="44.8" y="352.5" width="97.8" height="76.5" fill="none" stroke="#c8c8c8" stroke-width="1"/>
<line x1="44.8" y1="352.5" x2="44.8" y2="429" stroke="#c4c4c4" stroke-width="1.2" />
<line x1="44.8" y1="429" x2="142.6" y2="429" stroke="#bbbbbb" stroke-width="1" />
<text x="39.599999999999994" y="354.9" font-size="7" text-anchor="end" font-weight="normal" font-style="normal" fill="#454545" style='font-family:"Liberation Sans", sans-serif' >1,4</text>
<text x="39.599999999999994" y="393.15" font-size="7" text-anchor="end" font-weight="normal" font-style="normal" fill="#454545" style='font-family:"Liberation Sans", sans-serif' >0,7</text>
<text x="39.599999999999994" y="431.4" font-size="7" text-anchor="end" font-weight="normal" font-style="normal" fill="#454545" style='font-family:"Liberation Sans", sans-serif' >0</text>
<line x1="77.4" y1="426.5" x2="77.4" y2="429" stroke="#d0d0d0" stroke-width="0.8" />
<line x1="110.0" y1="426.5" x2="110.0" y2="429" stroke="#d0d0d0" stroke-width="0.8" />
<line x1="60.75" y1="370.4" x2="60.75" y2="374.4" stroke="#888" stroke-width="0.8" />
<line x1="59.55" y1="370.4" x2="61.95" y2="370.4" stroke="#888" stroke-width="0.8" />
<rect x="49.5" y="374.4" width="22.5" height="54.60000000000002" fill="#fff" stroke="#a6a6a6" stroke-width="0.8"/>
<line x1="93.55" y1="376" x2="93.55" y2="383.7" stroke="#888" stroke-width="0.8" />
<line x1="92.35" y1="376" x2="94.75" y2="376" stroke="#888" stroke-width="0.8" />
<rect x="82.5" y="383.7" width="22.099999999999994" height="45.30000000000001" fill="#c3c3c3" stroke="#ababab" stroke-width="0.8"/>
<line x1="126.25" y1="393.2" x2="126.25" y2="401" stroke="#888" stroke-width="0.8" />
<line x1="125.05" y1="393.2" x2="127.45" y2="393.2" stroke="#888" stroke-width="0.8" />
<rect x="115.2" y="401" width="22.10000000000001" height="28" fill="#000" stroke="#000" stroke-width="0.8"/>
<polyline points="60.3,368.2 60.3,362.2 131.2,362.2 131.2,368.2" fill="none" stroke="#222" stroke-width="1.1"/>
<text x="95.8" y="359.7" font-size="5.8" text-anchor="middle" font-weight="bold" font-style="italic" fill="#222" style='font-family:"Liberation Sans", sans-serif' textLength="23.2" lengthAdjust="spacingAndGlyphs">P = .0083</text>
<text x="97" y="349.6" font-size="10" text-anchor="middle" font-weight="normal" font-style="normal" fill="#000" style='font-family:"Liberation Sans", sans-serif' >MYB</text>
<rect x="166" y="352.5" width="98" height="76.5" fill="none" stroke="#c8c8c8" stroke-width="1"/>
<line x1="166" y1="352.5" x2="166" y2="429" stroke="#c4c4c4" stroke-width="1.2" />
<line x1="166" y1="429" x2="264" y2="429" stroke="#bbbbbb" stroke-width="1" />
<text x="160.8" y="354.9" font-size="7" text-anchor="end" font-weight="normal" font-style="normal" fill="#454545" style='font-family:"Liberation Sans", sans-serif' >2,5</text>
<text x="160.8" y="370.2" font-size="7" text-anchor="end" font-weight="normal" font-style="normal" fill="#454545" style='font-family:"Liberation Sans", sans-serif' >2</text>
<text x="160.8" y="385.5" font-size="7" text-anchor="end" font-weight="normal" font-style="normal" fill="#454545" style='font-family:"Liberation Sans", sans-serif' >1,5</text>
<text x="160.8" y="400.79999999999995" font-size="7" text-anchor="end" font-weight="normal" font-style="normal" fill="#454545" style='font-family:"Liberation Sans", sans-serif' >1</text>
<text x="160.8" y="416.09999999999997" font-size="7" text-anchor="end" font-weight="normal" font-style="normal" fill="#454545" style='font-family:"Liberation Sans", sans-serif' >0,5</text>
<text x="160.8" y="431.4" font-size="7" text-anchor="end" font-weight="normal" font-style="normal" fill="#454545" style='font-family:"Liberation Sans", sans-serif' >0</text>
<line x1="198.66666666666666" y1="426.5" x2="198.66666666666666" y2="429" stroke="#d0d0d0" stroke-width="0.8" />
<line x1="231.33333333333331" y1="426.5" x2="231.33333333333331" y2="429" stroke="#d0d0d0" stroke-width="0.8" />
<line x1="182.35" y1="397" x2="182.35" y2="398.3" stroke="#888" stroke-width="0.8" />
<line x1="181.15" y1="397" x2="183.54999999999998" y2="397" stroke="#888" stroke-width="0.8" />
<rect x="171.2" y="398.3" width="22.30000000000001" height="30.69999999999999" fill="#fff" stroke="#a6a6a6" stroke-width="0.8"/>
<line x1="215.85000000000002" y1="372" x2="215.85000000000002" y2="375.9" stroke="#888" stroke-width="0.8" />
<line x1="214.65000000000003" y1="372" x2="217.05" y2="372" stroke="#888" stroke-width="0.8" />
<rect x="204.8" y="375.9" width="22.099999999999994" height="53.10000000000002" fill="#c3c3c3" stroke="#ababab" stroke-width="0.8"/>
<line x1="247.95" y1="391.4" x2="247.95" y2="396.6" stroke="#888" stroke-width="0.8" />
<line x1="246.75" y1="391.4" x2="249.14999999999998" y2="391.4" stroke="#888" stroke-width="0.8" />
<rect x="237.1" y="396.6" width="21.700000000000017" height="32.39999999999998" fill="#000" stroke="#000" stroke-width="0.8"/>
<polyline points="182,366.5 182,360.7 210.2,360.7 210.2,366.5" fill="none" stroke="#222" stroke-width="1.1"/>
<polyline points="218.8,366.5 218.8,360.7 247.4,360.7 247.4,366.5" fill="none" stroke="#222" stroke-width="1.1"/>
<text x="194.7" y="358.3" font-size="5.8" text-anchor="middle" font-weight="bold" font-style="italic" fill="#222" style='font-family:"Liberation Sans", sans-serif' textLength="23.2" lengthAdjust="spacingAndGlyphs">P = .0001</text>
<text x="232.7" y="358.3" font-size="5.8" text-anchor="middle" font-weight="bold" font-style="italic" fill="#222" style='font-family:"Liberation Sans", sans-serif' textLength="23.2" lengthAdjust="spacingAndGlyphs">P = .0043</text>
<text x="215.9" y="349.6" font-size="10" text-anchor="middle" font-weight="normal" font-style="normal" fill="#000" style='font-family:"Liberation Sans", sans-serif' >GATA2</text>
<rect x="289.5" y="352.5" width="103.5" height="76.5" fill="none" stroke="#c8c8c8" stroke-width="1"/>
<line x1="289.5" y1="352.5" x2="289.5" y2="429" stroke="#c4c4c4" stroke-width="1.2" />
<line x1="289.5" y1="429" x2="393" y2="429" stroke="#bbbbbb" stroke-width="1" />
<text x="284.3" y="354.9" font-size="7" text-anchor="end" font-weight="normal" font-style="normal" fill="#454545" style='font-family:"Liberation Sans", sans-serif' >8</text>
<text x="284.3" y="374.025" font-size="7" text-anchor="end" font-weight="normal" font-style="normal" fill="#454545" style='font-family:"Liberation Sans", sans-serif' >6</text>
<text x="284.3" y="393.15" font-size="7" text-anchor="end" font-weight="normal" font-style="normal" fill="#454545" style='font-family:"Liberation Sans", sans-serif' >4</text>
<text x="284.3" y="412.275" font-size="7" text-anchor="end" font-weight="normal" font-style="normal" fill="#454545" style='font-family:"Liberation Sans", sans-serif' >2</text>
<text x="284.3" y="431.4" font-size="7" text-anchor="end" font-weight="normal" font-style="normal" fill="#454545" style='font-family:"Liberation Sans", sans-serif' >0</text>
<line x1="324.0" y1="426.5" x2="324.0" y2="429" stroke="#d0d0d0" stroke-width="0.8" />
<line x1="358.5" y1="426.5" x2="358.5" y2="429" stroke="#d0d0d0" stroke-width="0.8" />
<line x1="307.25" y1="417" x2="307.25" y2="419.3" stroke="#888" stroke-width="0.8" />
<line x1="306.05" y1="417" x2="308.45" y2="417" stroke="#888" stroke-width="0.8" />
<rect x="295.8" y="419.3" width="22.899999999999977" height="9.699999999999989" fill="#fff" stroke="#a6a6a6" stroke-width="0.8"/>
<line x1="341.65" y1="420" x2="341.65" y2="421.2" stroke="#888" stroke-width="0.8" />
<line x1="340.45" y1="420" x2="342.84999999999997" y2="420" stroke="#888" stroke-width="0.8" />
<rect x="330.2" y="421.2" width="22.900000000000034" height="7.800000000000011" fill="#c3c3c3" stroke="#ababab" stroke-width="0.8"/>
<line x1="376.45" y1="377.5" x2="376.45" y2="382.7" stroke="#888" stroke-width="0.8" />
<line x1="375.25" y1="377.5" x2="377.65" y2="377.5" stroke="#888" stroke-width="0.8" />
<rect x="365" y="382.7" width="22.899999999999977" height="46.30000000000001" fill="#000" stroke="#000" stroke-width="0.8"/>
<polyline points="305.5,367.3 305.5,361.5 376.3,361.5 376.3,367.3" fill="none" stroke="#222" stroke-width="1.1"/>
<polyline points="344.1,377.3 344.1,370.6 372.8,370.6 372.8,377.3" fill="none" stroke="#222" stroke-width="1.1"/>
<text x="340.6" y="359.4" font-size="5.8" text-anchor="middle" font-weight="bold" font-style="italic" fill="#222" style='font-family:"Liberation Sans", sans-serif' textLength="23.2" lengthAdjust="spacingAndGlyphs">P = .0001</text>
<text x="356.8" y="369.7" font-size="5.8" text-anchor="middle" font-weight="bold" font-style="italic" fill="#222" style='font-family:"Liberation Sans", sans-serif' textLength="23.2" lengthAdjust="spacingAndGlyphs">P = .0001</text>
<text x="343.2" y="349.6" font-size="10" text-anchor="middle" font-weight="normal" font-style="normal" fill="#000" style='font-family:"Liberation Sans", sans-serif' >LMO2</text>
<rect x="420.5" y="352.5" width="98.0" height="76.5" fill="none" stroke="#c8c8c8" stroke-width="1"/>
<line x1="420.5" y1="352.5" x2="420.5" y2="429" stroke="#c4c4c4" stroke-width="1.2" />
<line x1="420.5" y1="429" x2="518.5" y2="429" stroke="#bbbbbb" stroke-width="1" />
<text x="415.3" y="354.9" font-size="7" text-anchor="end" font-weight="normal" font-style="normal" fill="#454545" style='font-family:"Liberation Sans", sans-serif' >2,5</text>
<text x="415.3" y="370.2" font-size="7" text-anchor="end" font-weight="normal" font-style="normal" fill="#454545" style='font-family:"Liberation Sans", sans-serif' >2</text>
<text x="415.3" y="385.5" font-size="7" text-anchor="end" font-weight="normal" font-style="normal" fill="#454545" style='font-family:"Liberation Sans", sans-serif' >1,5</text>
<text x="415.3" y="400.79999999999995" font-size="7" text-anchor="end" font-weight="normal" font-style="normal" fill="#454545" style='font-family:"Liberation Sans", sans-serif' >1</text>
<text x="415.3" y="416.09999999999997" font-size="7" text-anchor="end" font-weight="normal" font-style="normal" fill="#454545" style='font-family:"Liberation Sans", sans-serif' >0,5</text>
<text x="415.3" y="431.4" font-size="7" text-anchor="end" font-weight="normal" font-style="normal" fill="#454545" style='font-family:"Liberation Sans", sans-serif' >0</text>
<line x1="453.1666666666667" y1="426.5" x2="453.1666666666667" y2="429" stroke="#d0d0d0" stroke-width="0.8" />
<line x1="485.8333333333333" y1="426.5" x2="485.8333333333333" y2="429" stroke="#d0d0d0" stroke-width="0.8" />
<line x1="437.35" y1="397" x2="437.35" y2="398.3" stroke="#888" stroke-width="0.8" />
<line x1="436.15000000000003" y1="397" x2="438.55" y2="397" stroke="#888" stroke-width="0.8" />
<rect x="426.6" y="398.3" width="21.5" height="30.69999999999999" fill="#fff" stroke="#a6a6a6" stroke-width="0.8"/>
<line x1="469.95" y1="374" x2="469.95" y2="376.7" stroke="#888" stroke-width="0.8" />
<line x1="468.75" y1="374" x2="471.15" y2="374" stroke="#888" stroke-width="0.8" />
<rect x="458.9" y="376.7" width="22.100000000000023" height="52.30000000000001" fill="#c3c3c3" stroke="#ababab" stroke-width="0.8"/>
<line x1="502.75" y1="423.8" x2="502.75" y2="425" stroke="#888" stroke-width="0.8" />
<line x1="501.55" y1="423.8" x2="503.95" y2="423.8" stroke="#888" stroke-width="0.8" />
<rect x="491.7" y="425" width="22.099999999999966" height="4" fill="#000" stroke="#000" stroke-width="0.8"/>
<polyline points="435.7,366 435.7,360.8 505.2,360.8 505.2,366" fill="none" stroke="#222" stroke-width="1.1"/>
<polyline points="437.3,375.8 437.3,370 465.7,370 465.7,375.8" fill="none" stroke="#222" stroke-width="1.1"/>
<polyline points="475,375.8 475,370 503.5,370 503.5,375.8" fill="none" stroke="#222" stroke-width="1.1"/>
<text x="470.2" y="358.3" font-size="5.8" text-anchor="middle" font-weight="bold" font-style="italic" fill="#222" style='font-family:"Liberation Sans", sans-serif' textLength="23.2" lengthAdjust="spacingAndGlyphs">P &lt; .0001</text>
<text x="451.3" y="368.09999999999997" font-size="5.8" text-anchor="middle" font-weight="bold" font-style="italic" fill="#222" style='font-family:"Liberation Sans", sans-serif' textLength="23.2" lengthAdjust="spacingAndGlyphs">P = .0029</text>
<text x="488.4" y="368.09999999999997" font-size="5.8" text-anchor="middle" font-weight="bold" font-style="italic" fill="#222" style='font-family:"Liberation Sans", sans-serif' textLength="23.2" lengthAdjust="spacingAndGlyphs">P &lt; .0001</text>
<text x="469.8" y="349.6" font-size="10" text-anchor="middle" font-weight="normal" font-style="normal" fill="#000" style='font-family:"Liberation Sans", sans-serif' >KIT</text>
<rect x="48.5" y="440.3" width="9" height="9.9" fill="#fff" stroke="#bbb" stroke-width="0.9"/>
<text x="63.1" y="448.2" font-size="8.7" text-anchor="start" font-weight="normal" font-style="normal" fill="#222" style='font-family:"Liberation Sans", sans-serif' textLength="125.8" lengthAdjust="spacingAndGlyphs">Adult CD34+CD41+CD42- fraction</text>
<rect x="200" y="440.1" width="8.1" height="10.3" fill="#b4b4b4"/>
<text x="214.6" y="448.2" font-size="8.7" text-anchor="start" font-weight="normal" font-style="normal" fill="#222" style='font-family:"Liberation Sans", sans-serif' textLength="147.2" lengthAdjust="spacingAndGlyphs">Cord blood CD34+CD41+CD42- fraction</text>
<rect x="369.1" y="439.7" width="8.6" height="10.5" fill="#000"/>
<text x="385.1" y="448.2" font-size="8.7" text-anchor="start" font-weight="normal" font-style="normal" fill="#222" style='font-family:"Liberation Sans", sans-serif' textLength="58.6" lengthAdjust="spacingAndGlyphs">Embryonic MEP</text>
</svg>
</body></html>
